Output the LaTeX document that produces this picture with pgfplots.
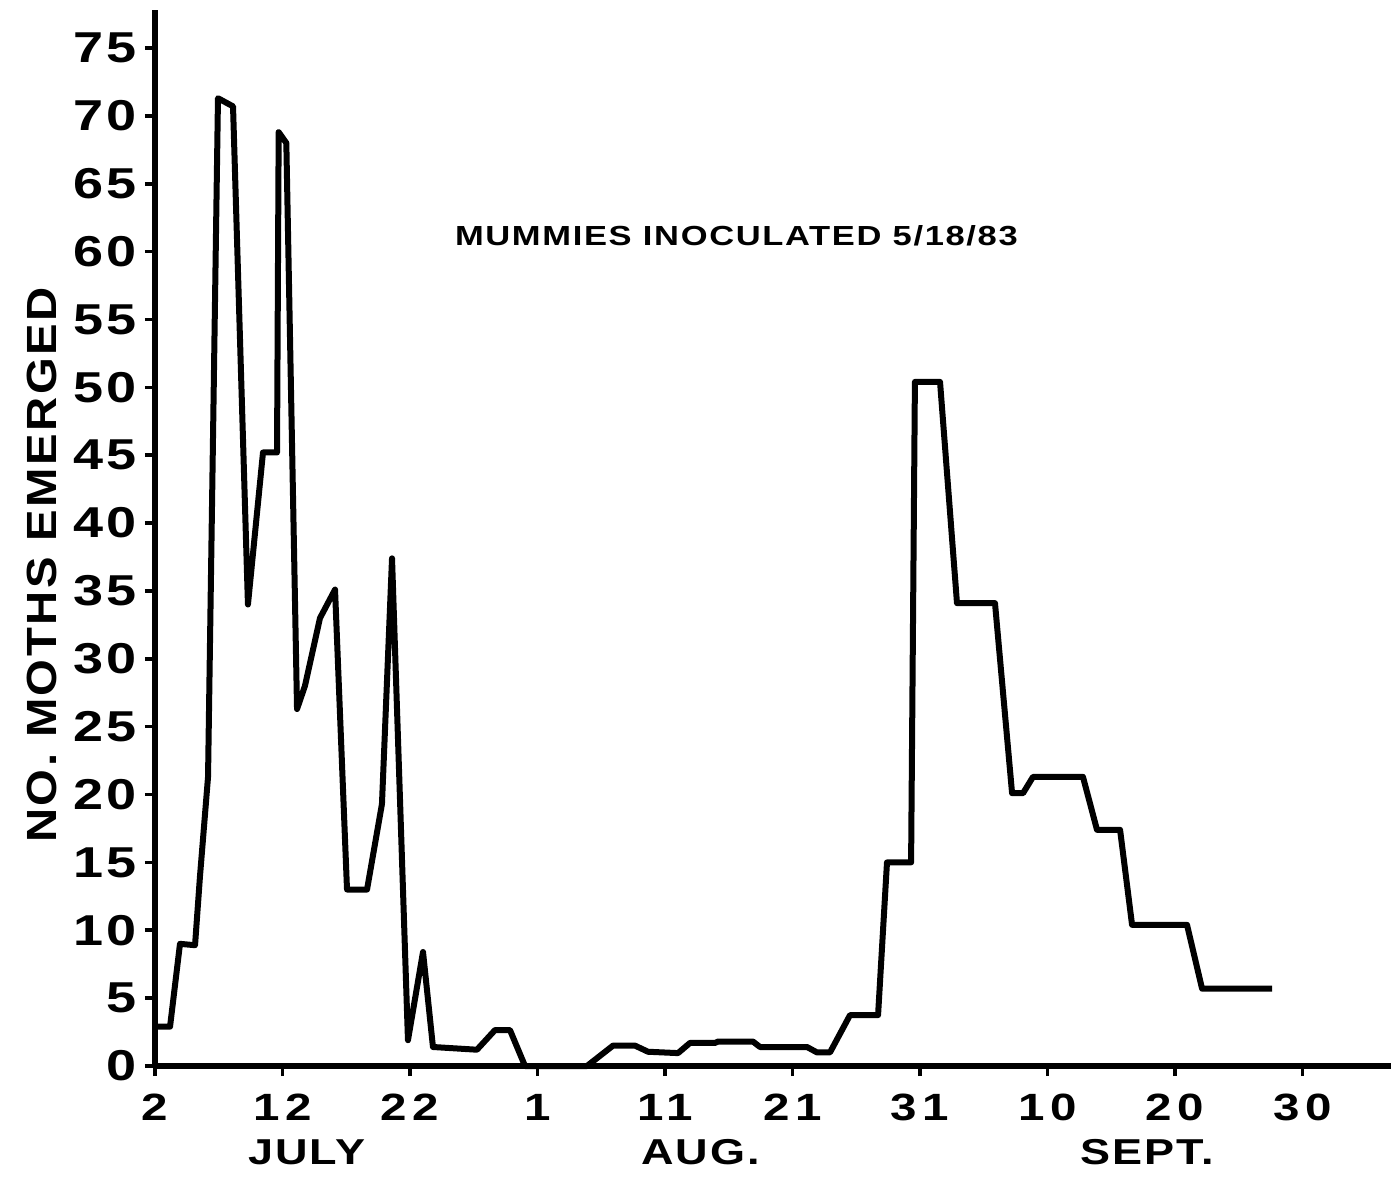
\documentclass[border=0pt]{standalone}
\usepackage{fontspec}
\setmainfont{Liberation Sans}
\newfontfamily\pf{Liberation Sans}[FakeStretch=1.25,LetterSpace=6]
\newfontfamily\xf{Liberation Sans}[FakeStretch=1.25,LetterSpace=14]
\newfontfamily\yf{Liberation Sans}[FakeStretch=1.12,LetterSpace=6]
\usepackage{pgfplots}
\pgfplotsset{compat=1.18}
\begin{document}
\begin{tikzpicture}
\begin{axis}[
 at={(0,0)}, anchor=south west,
 scale only axis, width=618pt, height=528pt,
 xmin=0, xmax=96.94, ymin=0, ymax=77.8,
 axis x line=bottom, axis y line=left,
 axis line style={line width=3pt, -},
 xtick={0,10,...,90},
 xticklabels={2,12,22,1,11,21,31,10,20,30},
 ytick={0,5,...,75},
 yticklabels={0,5,10,15,20,25,30,35,40,45,50,55,60,65,70,75},
 tick align=outside,
 major tick length=5pt,
 tick style={line width=1.8pt, black},
 xticklabel style={font=\xf\bfseries\fontsize{19}{21}\selectfont, inner sep=0pt, yshift=-9pt},
 yticklabel style={font=\pf\bfseries\fontsize{21.6}{24}\selectfont, inner sep=0pt, xshift=-4pt},
 clip=false,
 ylabel={NO. MOTHS EMERGED},
 every axis y label/.style={at={(axis description cs:0,0.4744)}, xshift=-56.5pt, rotate=90, anchor=center, font=\yf\bfseries\fontsize{21.1}{23}\selectfont},
]
\addplot[line width=3pt, line join=round, black] coordinates {
(0.16,2.9) (1.18,2.9) (1.96,9.0) (3.14,8.9) (3.53,14) (4.16,21.3)
(4.94,71.3) (6.12,70.7) (7.29,34) (8.47,45.2) (9.57,45.2)
(9.7,68.8) (10.3,68.0) (11.14,26.3) (11.76,28) (12.94,33) (14.12,35.1)
(15.06,13) (16.63,13) (17.80,19.3) (18.59,37.4) (19.84,1.9) (21.02,8.4)
(21.80,1.4) (25.25,1.2) (26.67,2.65) (27.84,2.65) (29.02,0) (33.88,0)
(35.92,1.5) (37.65,1.5) (38.67,1.05) (41.02,0.95) (41.96,1.7) (43.92,1.7)
(44.16,1.8) (46.90,1.8) (47.45,1.4) (51.14,1.4) (51.92,1.0) (52.94,1.0)
(54.51,3.75) (56.71,3.75) (57.41,15) (59.3,15) (59.6,50.4) (61.57,50.4)
(62.90,34.1) (65.88,34.1) (67.22,20.1) (68.08,20.1) (68.86,21.3) (72.78,21.3)
(73.88,17.4) (75.69,17.4) (76.63,10.4) (80.94,10.4) (82.12,5.7) (87.61,5.7)
};
\node[font=\pf\bfseries\fontsize{13.8}{15}\selectfont] at (axis cs:45.6,61.2) {MUMMIES INOCULATED 5/18/83};
\node[font=\pf\bfseries\fontsize{18}{20}\selectfont] at (axis cs:11.9,0) [yshift=-43pt] {JULY};
\node[font=\pf\bfseries\fontsize{18}{20}\selectfont] at (axis cs:42.8,0) [yshift=-43pt] {AUG.};
\node[font=\pf\bfseries\fontsize{18}{20}\selectfont] at (axis cs:77.8,0) [yshift=-43pt] {SEPT.};
\end{axis}
\pgfresetboundingbox
\path (-77.5pt,-61.5pt) rectangle (618pt,533pt);
\end{tikzpicture}
\end{document}
